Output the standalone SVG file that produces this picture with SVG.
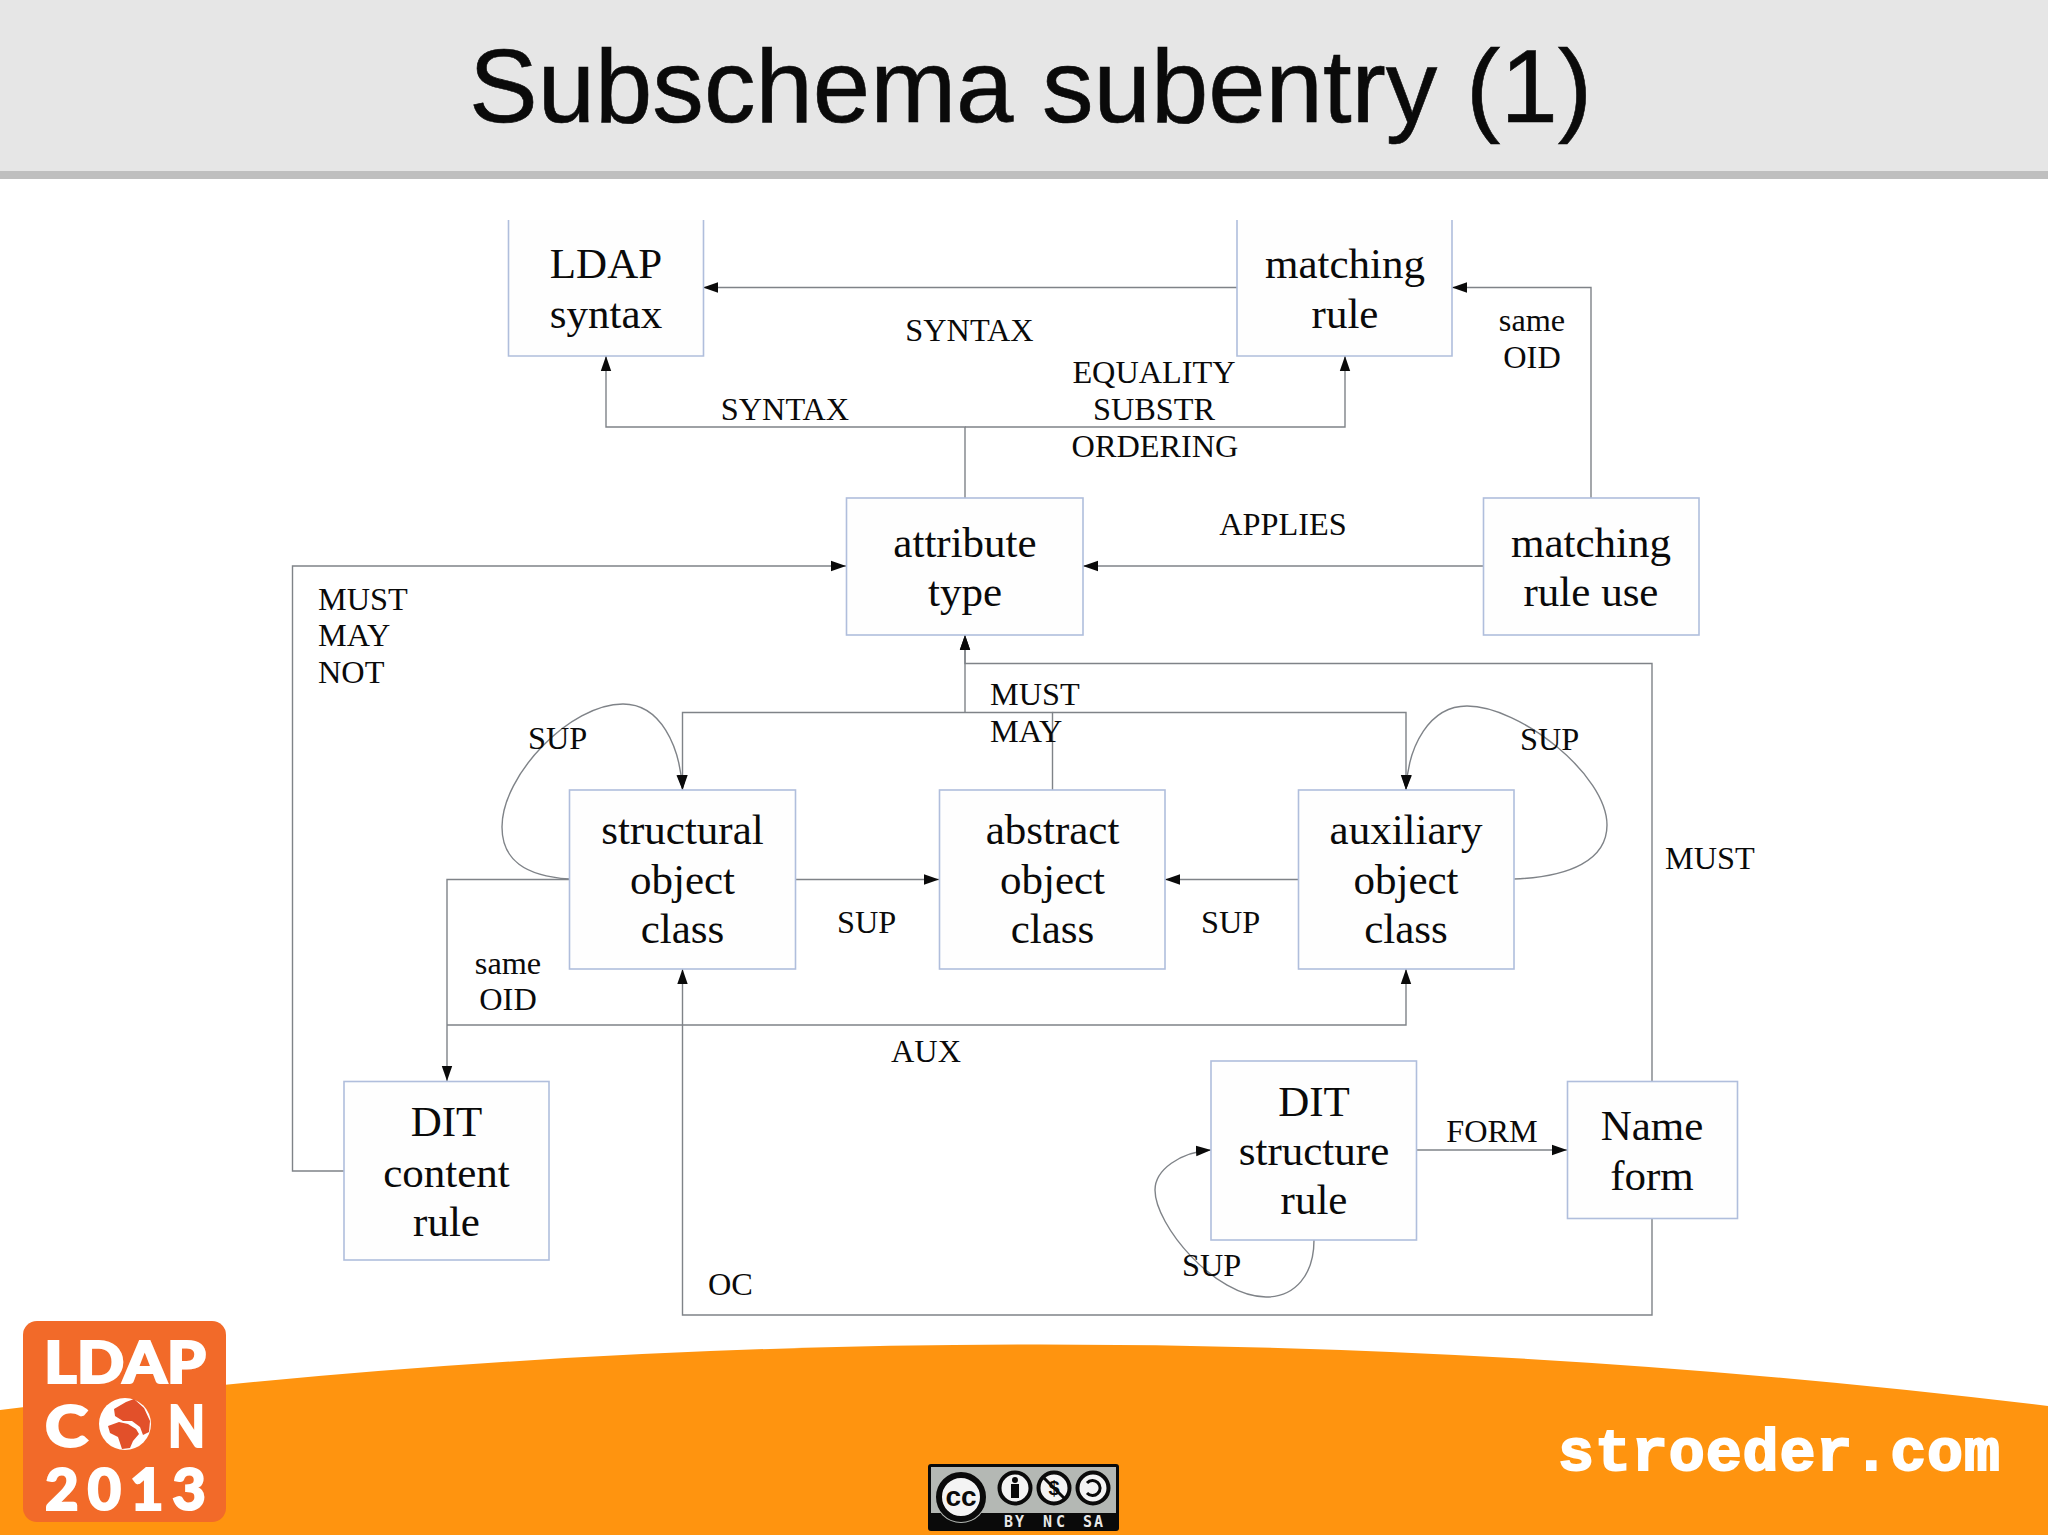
<svg xmlns="http://www.w3.org/2000/svg" width="2048" height="1535" viewBox="0 0 2048 1535">
<style>
.box{fill:#fefefe;stroke:#b0bedc;stroke-width:1.6}
.n{font:43px "Liberation Serif","Times New Roman",serif;fill:#0a0a0a;text-anchor:middle}
.l{font:32.300px "Liberation Serif","Times New Roman",serif;fill:#0a0a0a}
.m{text-anchor:middle}
.c{fill:none;stroke:#7f8388;stroke-width:1.4}
.e{marker-end:url(#arrow)}
.logo{font:900 58px Lato,"Liberation Sans",sans-serif;fill:#fff;stroke:#fff;stroke-width:2}
.cc{font:700 15px "DejaVu Sans Mono","Liberation Mono",monospace;fill:#e8e8e8;text-anchor:middle}
.ic{fill:#f4f4f4;stroke:#0a0a0a;stroke-width:4}
</style>
<defs>
<marker id="arrow" markerUnits="userSpaceOnUse" markerWidth="16" markerHeight="12" refX="15" refY="6" orient="auto"><path d="M0 .8L15 6L0 11.2Z" fill="#0a0a0a"/></marker>
</defs>
<rect width="2048" height="1535" fill="#fff"/>
<rect width="2048" height="172" fill="#e6e6e6"/>
<rect y="171" width="2048" height="8" fill="#bfbfbf"/>
<text x="1030.500" y="122" text-anchor="middle" style="font:103.100px 'Liberation Sans',Arial,sans-serif;fill:#0a0a0a;stroke:#0a0a0a;stroke-width:.6">Subschema subentry (1)</text>
<path id="footer-band" d="M0 1410Q1024 1281 2048 1406V1535H0Z" fill="#ff940f"/>

<g id="connectors">
<path class="c e" d="M965 498V427H606V356"/>
<path class="c e" d="M965 427H1345V356"/>
<path class="c e" d="M1237 287.500H703"/>
<path class="c e" d="M1591 498V287.500H1452"/>
<path class="c e" d="M1483 566H1083"/>
<path class="c e" d="M344 1171H292.500V566H846"/>
<path class="c e" d="M965 712.500V635"/>
<path class="c e" d="M1052.500 790V712.500H682.500V790"/>
<path class="c e" d="M1052.500 712.500H1406V790"/>
<path class="c e" d="M1652 1082V663.500H965V635"/>
<path class="c e" d="M1652 1218V1315H682.500V969"/>
<path class="c e" d="M796 879.500H939"/>
<path class="c e" d="M1298 879.500H1165"/>
<path class="c e" d="M569.500 879.500H447V1081"/>
<path class="c e" d="M447 1025H1406V969"/>
<path class="c e" d="M569 879C525 876 502 860 502 827C502 775 570 704 623 704C660 704 680 745 682.500 790"/>
<path class="c e" d="M1514 879C1570 877 1607 860 1607 825C1607 775 1520 706 1467 706C1430 706 1408 745 1406 790"/>
<path class="c e" d="M1314 1240C1314 1275 1295 1297 1266 1297C1215 1297 1155 1225 1155 1190C1155 1170 1180 1152 1211 1150"/>
<path class="c e" d="M1416.500 1150H1567"/>
</g>

<g id="ldap-syntax"><path class="box" d="M508.500 220V356H703.500V220"/><text class="n" x="606" y="278">LDAP</text><text class="n" x="606" y="328">syntax</text></g>
<g id="matching-rule"><path class="box" d="M1237 220V356H1452V220"/><text class="n" x="1345" y="278">matching</text><text class="n" x="1345" y="328">rule</text></g>
<g id="attribute-type"><rect class="box" x="846.500" y="498" width="236.500" height="137"/><text class="n" x="965" y="557">attribute</text><text class="n" x="965" y="606">type</text></g>
<g id="matching-rule-use"><rect class="box" x="1483.500" y="498" width="215.500" height="137"/><text class="n" x="1591" y="557">matching</text><text class="n" x="1591" y="606">rule use</text></g>
<g id="structural-object-class"><rect class="box" x="569.500" y="790" width="226" height="179"/><text class="n" x="682.500" y="844">structural</text><text class="n" x="682.500" y="894">object</text><text class="n" x="682.500" y="943">class</text></g>
<g id="abstract-object-class"><rect class="box" x="939.500" y="790" width="225.500" height="179"/><text class="n" x="1052.500" y="844">abstract</text><text class="n" x="1052.500" y="894">object</text><text class="n" x="1052.500" y="943">class</text></g>
<g id="auxiliary-object-class"><rect class="box" x="1298.500" y="790" width="215.500" height="179"/><text class="n" x="1406" y="844">auxiliary</text><text class="n" x="1406" y="894">object</text><text class="n" x="1406" y="943">class</text></g>
<g id="dit-content-rule"><rect class="box" x="344" y="1081.500" width="205" height="178.500"/><text class="n" x="446.500" y="1136">DIT</text><text class="n" x="446.500" y="1187">content</text><text class="n" x="446.500" y="1236">rule</text></g>
<g id="dit-structure-rule"><rect class="box" x="1211" y="1061" width="205.500" height="179"/><text class="n" x="1314" y="1116">DIT</text><text class="n" x="1314" y="1165">structure</text><text class="n" x="1314" y="1214">rule</text></g>
<g id="name-form"><rect class="box" x="1567.500" y="1081.500" width="170" height="137"/><text class="n" x="1652" y="1140">Name</text><text class="n" x="1652" y="1190">form</text></g>

<g id="labels">
<text class="l m" x="969.500" y="341">SYNTAX</text>
<text class="l m" x="785" y="420">SYNTAX</text>
<text class="l m" x="1154" y="383">EQUALITY</text>
<text class="l m" x="1154" y="420">SUBSTR</text>
<text class="l m" x="1155" y="457">ORDERING</text>
<text class="l m" x="1532" y="331">same</text>
<text class="l m" x="1532" y="368">OID</text>
<text class="l m" x="1283" y="535">APPLIES</text>
<text class="l" x="318" y="610">MUST</text>
<text class="l" x="318" y="646">MAY</text>
<text class="l" x="318" y="683">NOT</text>
<text class="l" x="990" y="705">MUST</text>
<text class="l" x="990" y="742">MAY</text>
<text class="l" x="528" y="749">SUP</text>
<text class="l" x="1520" y="750">SUP</text>
<text class="l" x="1665" y="869">MUST</text>
<text class="l" x="837" y="933">SUP</text>
<text class="l" x="1201" y="933">SUP</text>
<text class="l m" x="508" y="974">same</text>
<text class="l m" x="508" y="1010">OID</text>
<text class="l m" x="926" y="1062">AUX</text>
<text class="l m" x="1492" y="1142">FORM</text>
<text class="l" x="1182" y="1276">SUP</text>
<text class="l" x="708" y="1295">OC</text>
</g>

<g id="ldapcon-logo">
<rect x="23" y="1321" width="203" height="201" rx="14" fill="#f26a29"/>
<text class="logo" x="44" y="1383" textLength="162" lengthAdjust="spacingAndGlyphs">LDAP</text>
<text class="logo" x="45" y="1447" textLength="43" lengthAdjust="spacingAndGlyphs">C</text>
<text class="logo" x="168" y="1447" textLength="37" lengthAdjust="spacingAndGlyphs">N</text>
<text class="logo" x="45" y="1510" textLength="161" lengthAdjust="spacing">2013</text>
<circle cx="125" cy="1424" r="26" fill="#fff"/>
<path d="M114 1409L126 1402L134 1399L144 1408L150 1421L149 1432L143 1435L140 1427L132 1421L123 1421L115 1416Z" fill="#e2502a"/>
<path d="M108 1426L119 1422L128 1424L136 1429L139 1434L133 1441L130 1448L122 1449L118 1437L110 1433Z" fill="#e2502a"/>
</g>

<g id="cc-badge">
<rect x="928" y="1464" width="191" height="67" rx="3" fill="#0a0a0a"/>
<rect x="931" y="1467" width="185" height="46" fill="#b4b8b4"/>
<circle cx="961" cy="1497" r="26" fill="#b4b8b4"/>
<circle cx="961" cy="1497" r="22" fill="#f4f4f4" stroke="#0a0a0a" stroke-width="6"/>
<text x="961" y="1506" text-anchor="middle" style="font:700 28px 'Liberation Sans',Arial,sans-serif;fill:#0a0a0a">cc</text>
<circle class="ic" cx="1015" cy="1488" r="15.500"/>
<circle cx="1015" cy="1480" r="3" fill="#0a0a0a"/><rect x="1011" y="1484" width="8" height="14" fill="#0a0a0a"/>
<circle class="ic" cx="1054" cy="1488" r="15.500"/>
<text x="1054" y="1495" text-anchor="middle" style="font:700 20px 'Liberation Sans',Arial,sans-serif;fill:#0a0a0a">$</text>
<path d="M1043 1477L1065 1499" stroke="#0a0a0a" stroke-width="3"/>
<circle class="ic" cx="1093" cy="1488" r="15.500"/>
<path d="M1087 1483A7.500 7.500 0 1 1 1087 1493" fill="none" stroke="#0a0a0a" stroke-width="3"/>
<text class="cc" x="1014" y="1527" textLength="20">BY</text><text class="cc" x="1054" y="1527" textLength="22">NC</text><text class="cc" x="1093" y="1527" textLength="20">SA</text>
</g>

<text id="site" x="1558" y="1470" textLength="442" style="font:700 60px 'Liberation Mono','Courier New',monospace;fill:#fff;stroke:#fff;stroke-width:2">stroeder.com</text>
</svg>
